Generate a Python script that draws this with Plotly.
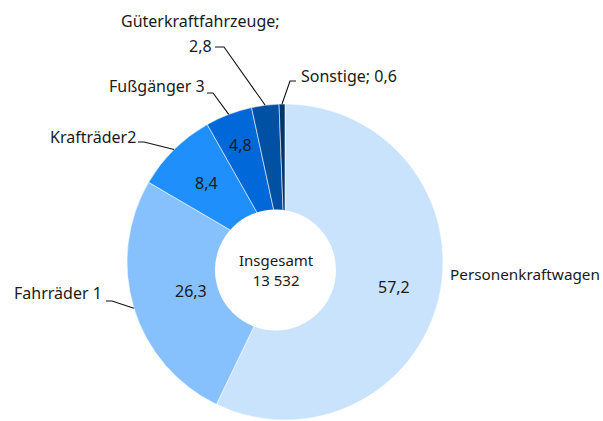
import math
import plotly.graph_objects as go

# ---------------- data ----------------
categories = ["Personenkraftwagen", "Fahrräder 1", "Krafträder2", "Fußgänger 3",
              "Güterkraftfahrzeuge", "Sonstige"]
shares = [57.2, 26.3, 8.4, 4.8, 2.8, 0.6]
total_title = "Insgesamt"
total_value = "13 532"
colors = ["#c9e3fd", "#87c1fd", "#1f8ffc", "#0068d8", "#0050a3", "#00356e"]

# ---------------- layout constants (pixels, origin top-left) ----------------
W, H = 603, 421
CX, CY, R = 285, 262, 158          # donut centre / outer radius
HOLE_CX, HOLE_CY, HOLE_R = 275.5, 270, 60.5   # white centre disc
FONT = "Noto Sans"
TXT = "#1a1a1a"

# radius (fraction of R) at which values are written inside the ring
inside_r = {"Personenkraftwagen": 0.71, "Fahrräder 1": 0.62,
            "Krafträder2": 0.705, "Fußgänger 3": 0.79}

# outside labels: text anchor, font size and leader elbow points
outside = {
    "Personenkraftwagen": dict(xy=(448, 274), xanchor="left", size=15.3, elbow=None),
    "Fahrräder 1": dict(xy=(104, 293), xanchor="right", size=16, elbow=[(112, 301), (106, 301)]),
    "Krafträder2": dict(xy=(138, 137), xanchor="right", size=16, elbow=[(144, 142), (138, 142)]),
    "Fußgänger 3": dict(xy=(207, 86), xanchor="right", size=16, elbow=[(213, 93), (207, 93)]),
    "Güterkraftfahrzeuge": dict(xy=(214, 45.5), xanchor="right", size=16,
                                elbow=[(224, 47), (215, 47)], title_xy=(200, 21)),
    "Sonstige": dict(xy=(299, 76), xanchor="left", size=16, elbow=[(290, 81), (296, 81)]),
}


def fmt(v):
    return f"{v:.1f}".replace(".", ",")


def px_to_paper(x, y):
    return x / W, 1 - y / H


def polar(theta_deg, r):
    t = math.radians(theta_deg)
    return CX + r * math.sin(t), CY - r * math.cos(t)


total = sum(shares)
mids = []
cum = 0.0
for v in shares:
    mids.append((cum + v / 2) / total * 360)
    cum += v

fig = go.Figure(go.Pie(
    labels=categories,
    values=shares,
    sort=False,
    direction="clockwise",
    rotation=0,
    hole=0.28,
    marker=dict(colors=colors, line=dict(color="rgba(255,255,255,0.7)", width=0.8)),
    textinfo="none",
    hoverinfo="label+value",
    showlegend=False,
    domain=dict(x=[(CX - R) / W, (CX + R) / W], y=[1 - (CY + R) / H, 1 - (CY - R) / H]),
))

annotations = []
shapes = []

# white centre disc (slightly offset, as in the original)
x0, y1 = px_to_paper(HOLE_CX - HOLE_R, HOLE_CY - HOLE_R)
x1, y0 = px_to_paper(HOLE_CX + HOLE_R, HOLE_CY + HOLE_R)
shapes.append(dict(type="circle", xref="paper", yref="paper", x0=x0, x1=x1, y0=y0, y1=y1,
                   fillcolor="white", line=dict(width=0), layer="above"))

# centre text
ax, ay = px_to_paper(HOLE_CX + 0.5, 270)
annotations.append(dict(x=ax, y=ay, xref="paper", yref="paper",
                        text=f"{total_title}<br>{total_value}", showarrow=False,
                        xanchor="center", yanchor="middle", align="center",
                        font=dict(family=FONT, size=15, color=TXT)))

# inside values
for cat, v, m in zip(categories, shares, mids):
    if cat in inside_r:
        px, py = polar(m, inside_r[cat] * R)
        ax, ay = px_to_paper(px, py)
        annotations.append(dict(x=ax, y=ay, xref="paper", yref="paper", text=fmt(v),
                                showarrow=False, xanchor="center", yanchor="middle",
                                font=dict(family=FONT, size=16, color=TXT)))

# outside labels with leader lines
for cat, v, m in zip(categories, shares, mids):
    spec = outside[cat]
    if cat == "Güterkraftfahrzeuge":
        tx, ty = px_to_paper(*spec["title_xy"])
        annotations.append(dict(x=tx, y=ty, xref="paper", yref="paper", text=cat + ";",
                                showarrow=False, xanchor="center", yanchor="middle",
                                font=dict(family=FONT, size=spec["size"], color=TXT)))
        label = fmt(v)
    elif cat == "Sonstige":
        label = f"{cat}; {fmt(v)}"
    else:
        label = cat
    tx, ty = px_to_paper(*spec["xy"])
    annotations.append(dict(x=tx, y=ty, xref="paper", yref="paper", text=label,
                            showarrow=False, xanchor=spec["xanchor"], yanchor="middle",
                            font=dict(family=FONT, size=spec["size"], color=TXT)))
    if spec["elbow"]:
        pts = [polar(m, R)] + spec["elbow"]
        path = "M " + " L ".join(
            f"{px_to_paper(x, y)[0]:.5f},{px_to_paper(x, y)[1]:.5f}" for x, y in pts)
        shapes.append(dict(type="path", xref="paper", yref="paper", path=path,
                           line=dict(color="#111111", width=1.1), layer="above"))

fig.update_layout(
    width=W, height=H,
    margin=dict(l=0, r=0, t=0, b=0),
    paper_bgcolor="white", plot_bgcolor="white",
    annotations=annotations, shapes=shapes,
    font=dict(family=FONT),
)

fig.write_html("out.html", config={"displayModeBar": False},
               post_script="document.body.style.margin='0px';")
